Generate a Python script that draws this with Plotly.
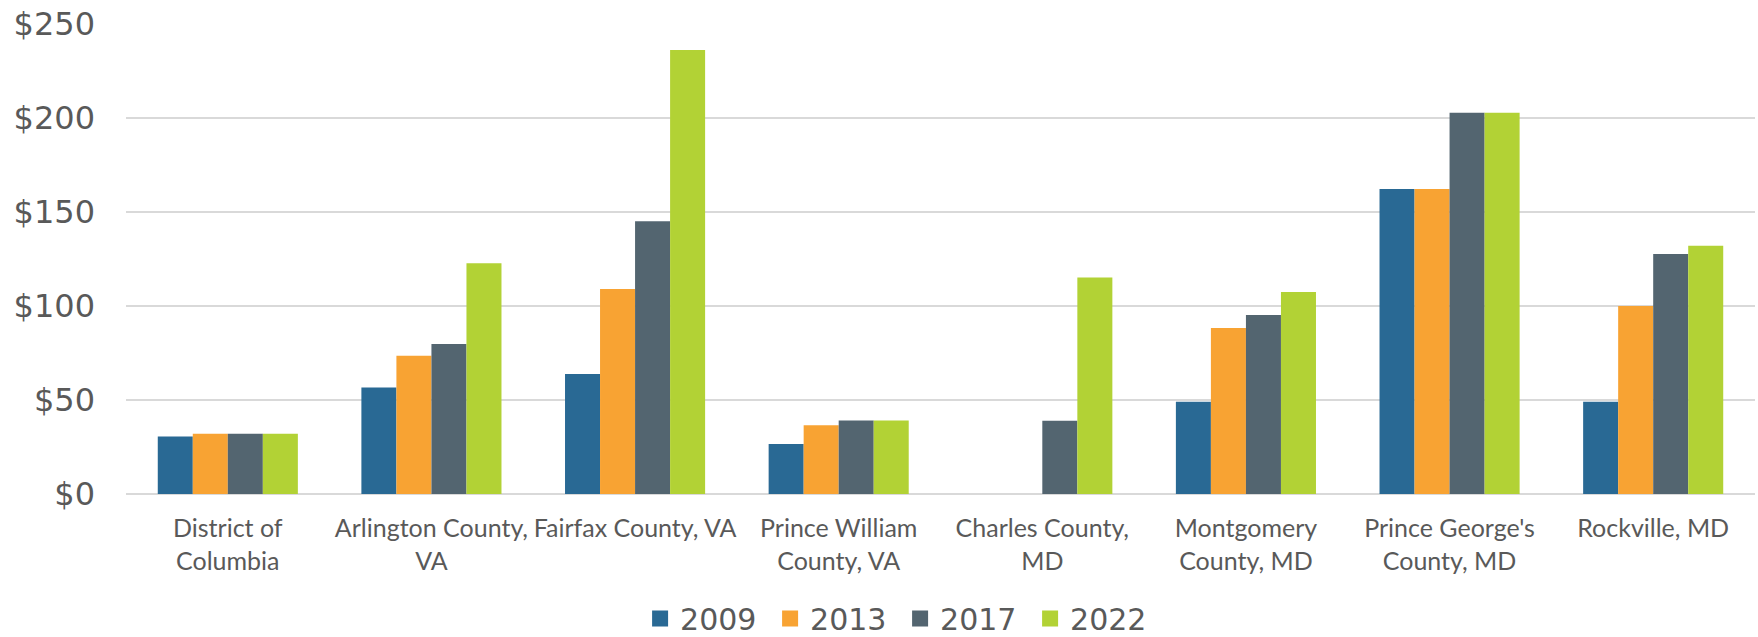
import plotly.graph_objects as go

categories = [
    "District of<br>Columbia",
    "Arlington County,<br>VA",
    "Fairfax County, VA",
    "Prince William<br>County, VA",
    "Charles County,<br>MD",
    "Montgomery<br>County, MD",
    "Prince George's<br>County, MD",
    "Rockville, MD",
]
series_names = ["2009", "2013", "2017", "2022"]
values_2009 = [30.6, 56.7, 63.8, 26.6, None, 49.1, 162.2, 49.1]
values_2013 = [32.1, 73.6, 109.1, 36.6, None, 88.3, 162.2, 100.0]
values_2017 = [32.1, 79.8, 145.1, 39.1, 39.0, 95.2, 202.8, 127.7]
values_2022 = [32.1, 122.8, 236.2, 39.1, 115.2, 107.4, 202.8, 132.1]
colors = ["#296994", "#F8A333", "#536570", "#B2D235"]
y_tickvals = [0, 50, 100, 150, 200, 250]
y_ticktext = ["$0", "$50", "$100", "$150", "$200", "$250"]

all_values = [values_2009, values_2013, values_2017, values_2022]

TICK_FONT = "DejaVu Sans"
CAT_FONT = "Lato"
GREY = "#595959"

fig = go.Figure()
for name, vals, col in zip(series_names, all_values, colors):
    fig.add_trace(go.Bar(
        x=categories, y=vals, name=name,
        marker=dict(color=col, line=dict(width=0)),
        showlegend=False,
    ))
# legend entries with larger square swatches
for name, col in zip(series_names, colors):
    fig.add_trace(go.Scatter(
        x=[None], y=[None], mode="markers", name=name,
        marker=dict(symbol="square", size=17, color=col),
        showlegend=True,
    ))

fig.update_layout(
    width=1758, height=637,
    margin=dict(l=126, r=3, t=24, b=143, autoexpand=False),
    paper_bgcolor="white", plot_bgcolor="white",
    barmode="group", bargap=0.312, bargroupgap=0,
    legend=dict(
        orientation="h", xref="container", yref="container",
        x=0.512, xanchor="center", y=0.07, yanchor="top",
        font=dict(family=TICK_FONT, size=30, color=GREY),
        entrywidth=85, itemwidth=30,
    ),
)
fig.update_xaxes(
    showgrid=False, showline=False, zeroline=False,
    tickfont=dict(family=CAT_FONT, size=25, color=GREY),
    ticks="", ticklabelstandoff=17, tickangle=0,
)
fig.update_yaxes(
    range=[0, 250], tickvals=y_tickvals, ticktext=y_ticktext,
    showgrid=True, gridcolor="#D9D9D9", gridwidth=1.5,
    zeroline=True, zerolinecolor="#D9D9D9", zerolinewidth=2,
    showline=False, ticks="",
    tickfont=dict(family=TICK_FONT, size=32, color=GREY),
    ticklabelstandoff=30,
)

fig.write_html(
    "out.html",
    config={"displayModeBar": False},
    post_script="document.body.style.margin='0';document.body.style.overflow='hidden';",
)
